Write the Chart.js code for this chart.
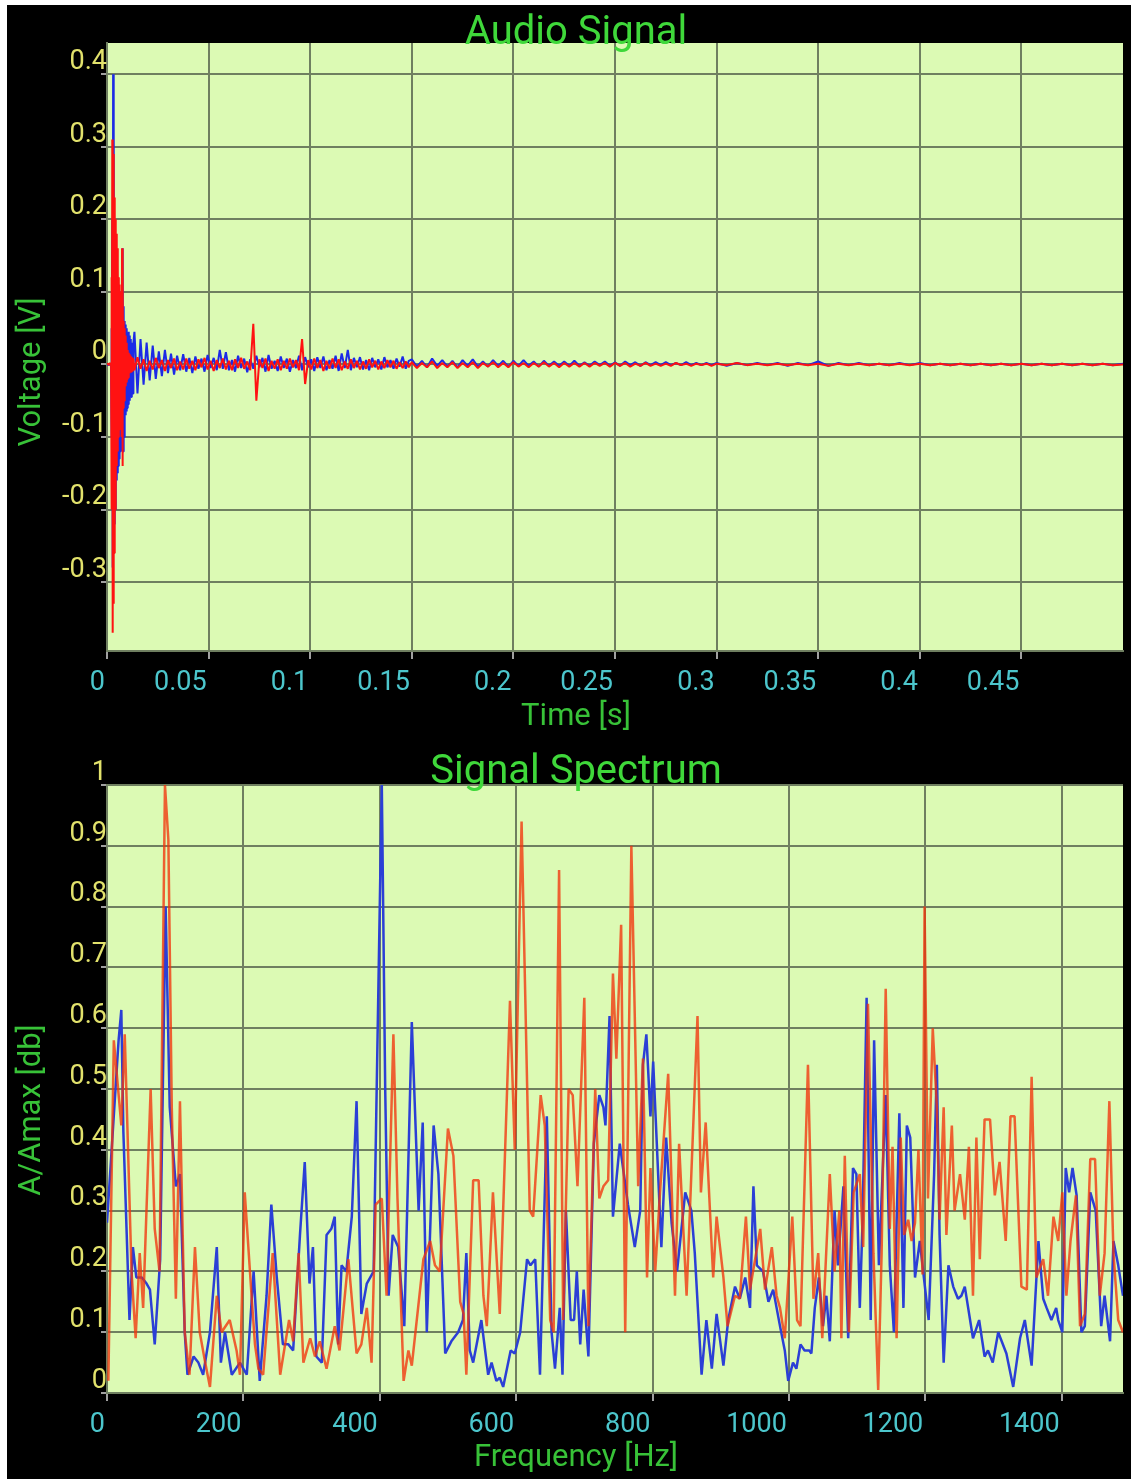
<!DOCTYPE html>
<html>
<head>
<meta charset="utf-8">
<script src="https://cdn.jsdelivr.net/npm/chart.js@4.4.1/dist/chart.umd.min.js"></script>
<style>
  html, body { margin: 0; padding: 0; background: #fff; }
  #panel { position: absolute; left: 7px; top: 5px; width: 1124px; height: 1474px; background: #000; }
  .box { position: absolute; left: 0; width: 1124px; }
  #box1 { top: 0; height: 735px; }
  #box2 { top: 735px; height: 739px; }
</style>
</head>
<body>
<div id="panel">
  <div class="box" id="box1"><canvas id="signalChart"></canvas></div>
  <div class="box" id="box2"><canvas id="spectrumChart"></canvas></div>
</div>
<script>
// ---- Audio signal (time in s, voltage in V) ----
const signalTime = [
  0, 0.0005, 0.001, 0.0015,
  0.002, 0.0022, 0.0024, 0.0026, 0.0028, 0.003, 0.0032, 0.0034, 0.0036, 0.0038,
  0.004, 0.0042, 0.0044, 0.0046, 0.0048, 0.005, 0.0052, 0.0054, 0.0056, 0.0058,
  0.006, 0.0062, 0.0064, 0.0066, 0.0068, 0.007, 0.0072, 0.0074, 0.0076, 0.0078,
  0.008, 0.0082, 0.0084, 0.0086, 0.0088, 0.009, 0.0092, 0.0094, 0.0096, 0.0098,
  0.01, 0.0102, 0.0104, 0.0106, 0.0108, 0.011, 0.0112, 0.0114, 0.0116, 0.0118,
  0.012, 0.0122, 0.0124, 0.0126, 0.0128, 0.013,
  0.0135, 0.015, 0.0165, 0.018, 0.0195, 0.021, 0.0225, 0.024, 0.0255, 0.027,
  0.0285, 0.03, 0.0315, 0.033, 0.0345, 0.036, 0.0375, 0.039, 0.0405, 0.042,
  0.0435, 0.045, 0.0465, 0.048, 0.0495, 0.051, 0.0525, 0.054, 0.0555, 0.057,
  0.0585, 0.06, 0.0615, 0.063, 0.0645, 0.066, 0.0675, 0.069, 0.0705, 0.072,
  0.0735, 0.075, 0.0765, 0.078, 0.0795, 0.081, 0.0825, 0.084, 0.0855, 0.087,
  0.0885, 0.09, 0.0915, 0.093, 0.0945, 0.096, 0.0975, 0.099, 0.1005, 0.102,
  0.1035, 0.105, 0.1065, 0.108, 0.1095, 0.111, 0.1125, 0.114, 0.1155, 0.117,
  0.1185, 0.12, 0.1215, 0.123, 0.1245, 0.126, 0.1275, 0.129, 0.1305, 0.132,
  0.1335, 0.135, 0.1365, 0.138, 0.1395, 0.141, 0.1425, 0.144, 0.1455, 0.147,
  0.1485,
  0.15, 0.1525, 0.155, 0.1575, 0.16, 0.1625, 0.165, 0.1675, 0.17, 0.1725,
  0.175, 0.1775, 0.18, 0.1825, 0.185, 0.1875, 0.19, 0.1925, 0.195, 0.1975,
  0.2, 0.2025, 0.205, 0.2075, 0.21, 0.2125, 0.215, 0.2175, 0.22, 0.2225,
  0.225, 0.2275, 0.23, 0.2325, 0.235, 0.2375, 0.24, 0.2425, 0.245, 0.2475,
  0.25, 0.2525, 0.255, 0.2575, 0.26, 0.2625, 0.265, 0.2675, 0.27, 0.2725,
  0.275, 0.2775, 0.28, 0.2825, 0.285, 0.2875, 0.29, 0.2925, 0.295, 0.2975,
  0.3, 0.305, 0.31, 0.315, 0.32, 0.325, 0.33, 0.335, 0.34, 0.345,
  0.35, 0.355, 0.36, 0.365, 0.37, 0.375, 0.38, 0.385, 0.39, 0.395,
  0.4, 0.405, 0.41, 0.415, 0.42, 0.425, 0.43, 0.435, 0.44, 0.445,
  0.45, 0.455, 0.46, 0.465, 0.47, 0.475, 0.48, 0.485, 0.49, 0.495,
  0.5
];

const blueVolt = [
  0, -0.001, 0.001, -0.001,
  0, 0.05, -0.1, 0.2, -0.28, 0.4, -0.25, 0.33, -0.22, 0.2,
  -0.2, 0.16, -0.18, 0.14, -0.16, 0.12, -0.15, 0.1, -0.14, 0.09,
  -0.13, 0.08, -0.12, 0.08, -0.12, 0.1, -0.12, 0.15, -0.11, 0.16,
  -0.12, 0.08, -0.1, 0.06, -0.08, 0.055, -0.07, 0.05, -0.065, 0.045,
  -0.06, 0.04, -0.055, 0.045, -0.05, 0.04, -0.05, 0.035, -0.045, 0.035,
  -0.045, 0.03, -0.04, 0.03, -0.04, 0.03,
  0.045, -0.04, 0.035, -0.028, 0.03, -0.022, 0.026, -0.02, 0.018, -0.016,
  0.02, -0.012, 0.015, -0.014, 0.012, -0.008, 0.014, -0.01, 0.009, -0.012,
  0.011, -0.006, 0.008, -0.01, 0.013, -0.005, 0.009, -0.008, 0.02, -0.006,
  0.017, -0.008, 0.006, -0.01, 0.012, -0.005, 0.008, -0.011, 0.007, -0.006,
  0.012, -0.004, 0.009, -0.01, 0.013, -0.006, 0.005, -0.009, 0.011, -0.005,
  0.008, -0.01, 0.006, -0.005, 0.012, -0.008, 0.01, -0.004, 0.007, -0.009,
  0.01, -0.005, 0.011, -0.008, 0.006, -0.006, 0.012, -0.009, 0.015, -0.005,
  0.02, -0.008, 0.009, -0.004, 0.01, -0.007, 0.006, -0.008, 0.009, -0.004,
  0.007, -0.007, 0.01, -0.004, 0.006, -0.006, 0.008, -0.003, 0.011, -0.006,
  0.005,
  0.007, -0.003, 0.005, -0.004, 0.008, -0.002, 0.006, -0.003, 0.005, -0.004,
  0.006, -0.002, 0.007, -0.003, 0.004, -0.003, 0.006, -0.002, 0.005, -0.003,
  0.005, -0.002, 0.006, -0.002, 0.004, -0.003, 0.005, -0.002, 0.004, -0.002,
  0.004, -0.002, 0.005, -0.002, 0.003, -0.002, 0.004, -0.001, 0.004, -0.002,
  0.003, -0.002, 0.004, -0.001, 0.003, -0.002, 0.003, -0.001, 0.003, -0.001,
  0.003, -0.001, 0.002, -0.001, 0.003, -0.001, 0.002, -0.001, 0.002, -0.001,
  0.002, -0.002, 0.002, -0.001, 0.002, -0.001, 0.002, -0.002, 0.002, -0.001,
  0.004, -0.002, 0.002, -0.001, 0.002, -0.001, 0.001, -0.001, 0.002, -0.001,
  0.002, -0.001, 0.001, -0.001, 0.001, -0.001, 0.001, -0.001, 0.001, -0.001,
  0.001, -0.001, 0.001, -0.001, 0.001, -0.001, 0.001, -0.001, 0.001, -0.001,
  0.001
];

const redVolt = [
  0, 0.001, -0.001, 0.002,
  0, 0.12, -0.2, 0.31, -0.37, 0.29, -0.33, 0.26, -0.26, 0.23,
  -0.2, 0.2, -0.17, 0.18, -0.14, 0.16, -0.12, 0.14, -0.1, 0.12,
  -0.09, 0.11, -0.08, 0.1, -0.07, 0.09, -0.1, 0.16, -0.14, 0.12,
  -0.06, 0.06, -0.05, 0.05, -0.04, 0.04, -0.03, 0.03, -0.025, 0.025,
  -0.02, 0.02, -0.018, 0.016, -0.015, 0.014, -0.012, 0.012, -0.011, 0.01,
  -0.01, 0.01, -0.009, 0.009, -0.008, 0.008,
  -0.008, 0.01, -0.006, 0.007, -0.009, 0.005, -0.007, 0.009, -0.005, 0.006,
  -0.009, 0.006, -0.005, 0.008, -0.008, 0.004, -0.007, 0.008, -0.006, 0.005,
  -0.008, 0.007, -0.004, 0.009, -0.007, 0.005, -0.009, 0.006, -0.005, 0.008,
  -0.007, 0.005, -0.008, 0.007, -0.005, 0.009, -0.006, 0.004, -0.008, 0.056,
  -0.05, 0.007, -0.005, 0.008, -0.009, 0.005, -0.006, 0.007, -0.008, 0.005,
  -0.006, 0.008, -0.004, 0.006, -0.008, 0.035, -0.027, 0.006, -0.007, 0.008,
  -0.005, 0.006, -0.009, 0.005, -0.006, 0.008, -0.005, 0.007, -0.008, 0.004,
  -0.006, 0.007, -0.005, 0.005, -0.007, 0.004, -0.006, 0.007, -0.004, 0.005,
  -0.007, 0.004, -0.005, 0.006, -0.004, 0.005, -0.006, 0.003, -0.005, 0.004,
  -0.004,
  0.003, -0.005, 0.002, -0.004, 0.004, -0.005, 0.002, -0.004, 0.003, -0.005,
  0.002, -0.004, 0.003, -0.005, 0.002, -0.003, 0.003, -0.004, 0.002, -0.004,
  0.003, -0.003, 0.002, -0.004, 0.002, -0.003, 0.003, -0.003, 0.002, -0.004,
  0.002, -0.003, 0.002, -0.003, 0.002, -0.003, 0.002, -0.002, 0.002, -0.003,
  0.002, -0.002, 0.002, -0.003, 0.001, -0.002, 0.002, -0.002, 0.001, -0.002,
  0.001, -0.002, 0.002, -0.001, 0.001, -0.002, 0.001, -0.001, 0.001, -0.002,
  0.001, -0.001, 0.002, -0.001, 0.001, -0.001, 0.001, -0.001, 0.001, -0.001,
  0.001, -0.002, 0.001, -0.001, 0.001, -0.001, 0.001, -0.001, 0.001, -0.001,
  0.001, -0.001, 0.001, -0.001, 0.001, -0.001, 0.001, -0.001, 0.001, -0.001,
  0.001, -0.001, 0.001, -0.001, 0.001, -0.001, 0.001, -0.001, 0.001, -0.001,
  0
];

const timeTicks = [0, 0.05, 0.1, 0.15, 0.2, 0.25, 0.3, 0.35, 0.4, 0.45];
const voltTicks = [-0.3, -0.2, -0.1, 0, 0.1, 0.2, 0.3, 0.4];

// ---- Signal spectrum (Hz, A/Amax) ----
const blueFreq = [
  0, 17, 21, 24, 33, 38, 43, 51, 58, 63,
  70, 78, 86, 92, 101, 107, 114, 118, 127, 134,
  141, 151, 161, 167, 173, 183, 195, 205, 215, 224,
  234, 241, 249, 258, 266, 273, 283, 290, 297, 302,
  307, 315, 322, 329, 334, 339, 344, 351, 359, 366,
  373, 381, 391, 403, 408, 413, 419, 427, 436, 447,
  457, 463, 469, 479, 486, 496, 505, 515, 522, 527,
  532, 537, 549, 559, 564, 571, 576, 581, 592, 598,
  606, 616, 621, 628, 635, 645, 652, 657, 664, 668,
  673, 680, 685, 689, 694, 699, 706, 714, 722, 728,
  731, 737, 742, 752, 764, 774, 782, 786, 791, 797,
  801, 813, 820, 828, 836, 848, 857, 862, 872, 879,
  887, 894, 904, 911, 921, 928, 936, 943, 948, 953,
  962, 970, 977, 987, 994, 999, 1006, 1011, 1017, 1023,
  1030, 1033, 1038, 1044, 1050, 1055, 1060, 1067, 1072, 1080,
  1087, 1094, 1099, 1104, 1108, 1114, 1120, 1125, 1132, 1142,
  1148, 1154, 1162, 1168, 1173, 1178, 1185, 1192, 1205, 1213,
  1217, 1221, 1227, 1234, 1241, 1248, 1253, 1258, 1270, 1279,
  1287, 1292, 1299, 1307, 1319, 1329, 1339, 1346, 1356, 1366,
  1373, 1378, 1385, 1392, 1395, 1401, 1406, 1411, 1416, 1422,
  1429, 1434, 1442, 1450, 1458, 1463, 1471, 1476, 1483, 1490
];
const blueAmp = [
  0.28, 0.58, 0.63, 0.43, 0.12, 0.24, 0.19, 0.19, 0.18, 0.17,
  0.08, 0.22, 0.80, 0.47, 0.34, 0.36, 0.10, 0.03, 0.06, 0.05,
  0.03, 0.10, 0.24, 0.05, 0.10, 0.03, 0.05, 0.03, 0.20, 0.02,
  0.16, 0.31, 0.19, 0.08, 0.08, 0.07, 0.26, 0.38, 0.18, 0.24,
  0.06, 0.05, 0.26, 0.27, 0.29, 0.08, 0.21, 0.20, 0.29, 0.48,
  0.13, 0.18, 0.20, 1.00, 0.50, 0.16, 0.26, 0.24, 0.11, 0.61,
  0.30, 0.445, 0.10, 0.44, 0.36, 0.065, 0.085, 0.10, 0.12, 0.23,
  0.07, 0.05, 0.12, 0.03, 0.05, 0.02, 0.025, 0.01, 0.07, 0.065,
  0.10, 0.22, 0.21, 0.22, 0.03, 0.455, 0.10, 0.04, 0.14, 0.03,
  0.30, 0.12, 0.12, 0.20, 0.08, 0.17, 0.06, 0.41, 0.49, 0.47,
  0.44, 0.62, 0.29, 0.41, 0.31, 0.24, 0.30, 0.54, 0.59, 0.455,
  0.545, 0.24, 0.42, 0.28, 0.20, 0.33, 0.30, 0.23, 0.03, 0.12,
  0.04, 0.13, 0.045, 0.12, 0.175, 0.155, 0.19, 0.14, 0.34, 0.21,
  0.20, 0.15, 0.17, 0.11, 0.07, 0.02, 0.05, 0.04, 0.08, 0.07,
  0.07, 0.065, 0.14, 0.19, 0.11, 0.16, 0.085, 0.30, 0.21, 0.34,
  0.09, 0.37, 0.36, 0.14, 0.28, 0.65, 0.12, 0.58, 0.21, 0.49,
  0.21, 0.10, 0.46, 0.14, 0.44, 0.42, 0.19, 0.25, 0.12, 0.36,
  0.54, 0.26, 0.05, 0.21, 0.175, 0.155, 0.16, 0.175, 0.09, 0.12,
  0.06, 0.07, 0.05, 0.10, 0.065, 0.01, 0.09, 0.12, 0.045, 0.25,
  0.155, 0.14, 0.12, 0.14, 0.12, 0.10, 0.37, 0.33, 0.37, 0.325,
  0.10, 0.11, 0.33, 0.30, 0.11, 0.16, 0.085, 0.25, 0.21, 0.16
];
const redFreq = [
  2, 10, 21, 26, 36, 42, 48, 53, 64, 70,
  77, 85, 90, 95, 101, 107, 114, 121, 129, 136,
  144, 151, 161, 168, 180, 190, 195, 202, 212, 217,
  222, 229, 243, 254, 267, 273, 281, 288, 298, 305,
  312, 322, 334, 341, 354, 366, 373, 381, 388, 394,
  403, 410, 420, 426, 435, 442, 447, 464, 474, 481,
  488, 500, 508, 518, 523, 527, 537, 545, 552, 557,
  566, 576, 591, 598, 608, 620, 625, 636, 642, 650,
  655, 663, 669, 677, 683, 690, 700, 706, 716, 722,
  728, 735, 742, 747, 754, 760, 769, 779, 786, 792,
  797, 804, 811, 823, 833, 839, 850, 866, 871, 878,
  889, 894, 904, 910, 921, 928, 937, 943, 958, 965,
  975, 982, 987, 994, 1005, 1012, 1017, 1028, 1036, 1043,
  1049, 1060, 1067, 1074, 1077, 1082, 1088, 1095, 1104, 1109,
  1116, 1124, 1131, 1136, 1142, 1148, 1152, 1158, 1164, 1169,
  1175, 1180, 1185, 1190, 1196, 1199, 1204, 1211, 1217, 1221,
  1227, 1231, 1239, 1243, 1251, 1258, 1264, 1270, 1275, 1280,
  1287, 1295, 1302, 1309, 1318, 1325, 1331, 1341, 1349, 1356,
  1363, 1373, 1380, 1388, 1395, 1401, 1407, 1413, 1421, 1427,
  1434, 1442, 1449, 1456, 1463, 1470, 1476, 1483, 1490
];
const redAmp = [
  0.02, 0.58, 0.44, 0.59, 0.20, 0.09, 0.23, 0.14, 0.50, 0.27,
  0.20, 1.00, 0.91, 0.47, 0.155, 0.48, 0.10, 0.03, 0.24, 0.10,
  0.05, 0.01, 0.16, 0.10, 0.12, 0.07, 0.03, 0.33, 0.16, 0.08,
  0.04, 0.03, 0.23, 0.03, 0.12, 0.085, 0.23, 0.05, 0.09, 0.06,
  0.085, 0.04, 0.11, 0.07, 0.22, 0.065, 0.08, 0.14, 0.05, 0.31,
  0.32, 0.16, 0.59, 0.32, 0.02, 0.07, 0.045, 0.22, 0.25, 0.21,
  0.20, 0.435, 0.39, 0.15, 0.13, 0.03, 0.35, 0.35, 0.16, 0.11,
  0.33, 0.13, 0.645, 0.40, 0.94, 0.30, 0.29, 0.49, 0.44, 0.12,
  0.10, 0.86, 0.12, 0.50, 0.49, 0.34, 0.65, 0.11, 0.50, 0.32,
  0.34, 0.35, 0.69, 0.55, 0.77, 0.10, 0.90, 0.34, 0.55, 0.19,
  0.37, 0.20, 0.33, 0.525, 0.16, 0.41, 0.16, 0.62, 0.33, 0.445,
  0.19, 0.29, 0.19, 0.11, 0.16, 0.155, 0.29, 0.17, 0.27, 0.17,
  0.24, 0.16, 0.14, 0.09, 0.29, 0.12, 0.11, 0.54, 0.155, 0.23,
  0.09, 0.36, 0.20, 0.30, 0.09, 0.39, 0.10, 0.33, 0.36, 0.24,
  0.64, 0.23, 0.005, 0.23, 0.665, 0.27, 0.405, 0.09, 0.42, 0.26,
  0.285, 0.25, 0.28, 0.40, 0.195, 0.80, 0.32, 0.60, 0.47, 0.285,
  0.47, 0.26, 0.44, 0.30, 0.36, 0.285, 0.405, 0.16, 0.42, 0.22,
  0.45, 0.45, 0.325, 0.38, 0.25, 0.455, 0.455, 0.175, 0.17, 0.52,
  0.19, 0.22, 0.16, 0.29, 0.25, 0.33, 0.16, 0.25, 0.325, 0.11,
  0.13, 0.385, 0.385, 0.16, 0.23, 0.48, 0.23, 0.12, 0.10
];

const freqTicks = [0, 200, 400, 600, 800, 1000, 1200, 1400];
const ampTicks = [0, 0.1, 0.2, 0.3, 0.4, 0.5, 0.6, 0.7, 0.8, 0.9, 1];

// colours
const plotFill = '#dcfab4';
const gridColor = '#6f7f60';
const tickMarkColor = '#a0a0a0';
const yLabelColor = '#e2e26c';
const xLabelColor = '#4cc6cc';
const titleGreen = '#3fd83a';
const axisGreen = '#38c238';

Chart.defaults.font.family = 'Roboto';

const plotBg = {
  id: 'plotBg',
  beforeDraw(chart) {
    const { ctx, chartArea: a } = chart;
    ctx.save();
    ctx.fillStyle = plotFill;
    ctx.fillRect(a.left, a.top, a.right - a.left, a.bottom - a.top);
    ctx.restore();
  }
};

// chart title and axis titles, placed by hand like the phone app does
const panelText = {
  id: 'panelText',
  afterDraw(chart, args, o) {
    const ctx = chart.ctx;
    ctx.save();
    ctx.textAlign = 'center';
    ctx.textBaseline = 'alphabetic';
    ctx.fillStyle = titleGreen;
    ctx.font = '40px Roboto';
    ctx.fillText(o.title, o.cx, o.titleY);
    ctx.fillStyle = axisGreen;
    ctx.font = '31px Roboto';
    ctx.fillText(o.xTitle, o.cx, o.xTitleY);
    ctx.translate(o.yTitleX, o.yTitleY);
    ctx.rotate(-Math.PI / 2);
    ctx.textBaseline = 'middle';
    ctx.fillText(o.yTitle, 0, 0);
    ctx.restore();
  }
};

function toPoints(xs, ys) {
  return xs.map((x, i) => ({ x, y: ys[i] }));
}

function makeScales(xMin, xMax, xTicks, xHeight, yMin, yMax, yTicks) {
  return {
    x: {
      type: 'linear',
      min: xMin,
      max: xMax,
      afterBuildTicks: s => { s.ticks = xTicks.map(v => ({ value: v })); },
      afterFit: s => { s.height = xHeight; },
      grid: { color: gridColor, lineWidth: 2, tickLength: 8, tickColor: tickMarkColor, tickWidth: 2 },
      border: { color: gridColor, width: 2 },
      ticks: {
        color: xLabelColor, font: { size: 27 }, align: 'end', labelOffset: -2,
        padding: 8, maxRotation: 0, autoSkip: false, callback: v => String(v)
      }
    },
    y: {
      type: 'linear',
      min: yMin,
      max: yMax,
      afterBuildTicks: s => { s.ticks = yTicks.map(v => ({ value: v })); },
      afterFit: s => { s.width = 100; },
      grid: { color: gridColor, lineWidth: 2, tickLength: 6, tickColor: tickMarkColor, tickWidth: 2 },
      border: { color: gridColor, width: 2 },
      ticks: {
        color: yLabelColor, font: { size: 27 }, padding: -6, labelOffset: -12,
        autoSkip: false, callback: v => String(v)
      }
    }
  };
}

const baseOptions = {
  responsive: true,
  maintainAspectRatio: false,
  animation: false,
  devicePixelRatio: 1,
  events: [],
  elements: { point: { radius: 0 }, line: { tension: 0, borderJoinStyle: 'bevel' } }
};

new Chart(document.getElementById('signalChart'), {
  type: 'line',
  data: {
    datasets: [
      { label: 'Right', data: toPoints(signalTime, redVolt), borderColor: '#ff1212', borderWidth: 2 },
      { label: 'Left', data: toPoints(signalTime, blueVolt), borderColor: '#1c2ae6', borderWidth: 2 }
    ]
  },
  options: {
    ...baseOptions,
    layout: { padding: { top: 38, right: 8, left: 0, bottom: 0 } },
    scales: makeScales(0, 0.5, timeTicks, 89, -0.395, 0.443, voltTicks),
    plugins: {
      legend: { display: false },
      tooltip: { enabled: false },
      panelText: { title: 'Audio Signal', xTitle: 'Time [s]', yTitle: 'Voltage [V]',
                   cx: 569, titleY: 39, xTitleY: 720, yTitleX: 25, yTitleY: 367 }
    }
  },
  plugins: [plotBg, panelText]
});

new Chart(document.getElementById('spectrumChart'), {
  type: 'line',
  data: {
    datasets: [
      { label: 'Right', data: toPoints(redFreq, redAmp), borderColor: 'rgba(242,52,12,0.78)', borderWidth: 2.5 },
      { label: 'Left', data: toPoints(blueFreq, blueAmp), borderColor: '#2b3fd6', borderWidth: 2.5 }
    ]
  },
  options: {
    ...baseOptions,
    layout: { padding: { top: 45, right: 8, left: 0, bottom: 0 } },
    scales: makeScales(0, 1490, freqTicks, 86, 0, 1, ampTicks),
    plugins: {
      legend: { display: false },
      tooltip: { enabled: false },
      panelText: { title: 'Signal Spectrum', xTitle: 'Frequency [Hz]', yTitle: 'A/Amax [db]',
                   cx: 569, titleY: 43, xTitleY: 726, yTitleX: 25, yTitleY: 370 }
    }
  },
  plugins: [plotBg, panelText]
});
</script>
</body>
</html>
